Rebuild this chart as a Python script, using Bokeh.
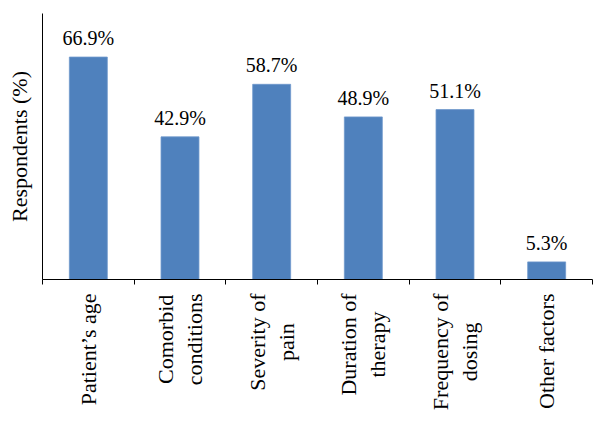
import math
from bokeh.plotting import figure
from bokeh.layouts import column
from bokeh.models import ColumnDataSource, FixedTicker, Range1d
from bokeh.embed import file_html
from bokeh.resources import INLINE
from bokeh.core.properties import value

categories = ["Patient\u2019s age", "Comorbid\nconditions", "Severity of\npain",
              "Duration of\ntherapy", "Frequency of\ndosing", "Other factors"]
values = [66.9, 42.9, 58.7, 48.9, 51.1, 5.3]
labels = ["66.9%", "42.9%", "58.7%", "48.9%", "51.1%", "5.3%"]

xs = [i + 0.5 for i in range(len(categories))]
src = ColumnDataSource(dict(x=xs, top=values, label=labels, cat=categories))

FONT = "Liberation Serif"

xr = Range1d(0, len(categories))
p = figure(width=605, height=290, output_backend="svg", toolbar_location=None,
           x_range=xr, y_range=Range1d(0, 80),
           min_border_left=42, min_border_right=13, min_border_top=13, min_border_bottom=11)
p.outline_line_color = None
p.xgrid.visible = False
p.ygrid.visible = False
p.background_fill_color = "white"
p.border_fill_color = "white"

p.vbar(x="x", top="top", width=0.414, bottom=0, source=src,
       fill_color="#4F81BD", line_color="#6F98CB", line_width=0.8)
p.text(x="x", y="top", text="label", source=src, text_align="center",
       text_baseline="alphabetic", y_offset=-19,
       text_font=value(FONT), text_font_size="20px", text_color="black")

xa = p.xaxis[0]
xa.ticker = FixedTicker(ticks=xs, minor_ticks=list(range(len(categories) + 1)))
xa.major_label_overrides = {x: "" for x in xs}
xa.major_label_text_font_size = "0px"
xa.major_label_standoff = 0
xa.major_tick_out = 0
xa.major_tick_in = 0
xa.minor_tick_out = 5
xa.minor_tick_in = 0
xa.minor_tick_line_color = "black"
xa.axis_line_color = "black"

ya = p.yaxis[0]
ya.ticker = FixedTicker(ticks=[])
ya.major_tick_out = 0
ya.minor_tick_out = 0
ya.major_label_text_font_size = "0px"
ya.axis_label = "Respondents (%)"
ya.axis_label_text_font = FONT
ya.axis_label_text_font_style = "normal"
ya.axis_label_text_font_size = "22px"
ya.axis_label_text_color = "black"
ya.axis_label_standoff = 11
ya.axis_line_color = "black"

# category labels, drawn in a strip under the chart sharing its x range
p2 = figure(width=605, height=125, output_backend="svg", toolbar_location=None,
            x_range=xr, y_range=Range1d(0, 1), x_axis_location=None, y_axis_location=None,
            min_border_left=42, min_border_right=13, min_border_top=0, min_border_bottom=0)
p2.outline_line_color = None
p2.xgrid.visible = False
p2.ygrid.visible = False
p2.background_fill_color = "white"
p2.border_fill_color = "white"
p2.text(x="x", y=1, text="cat", source=src, angle=math.pi / 2,
        anchor="center_right", text_align="center", text_baseline="middle",
        y_offset=3, text_font=value(FONT), text_font_size="22px",
        text_line_height=1.15, text_color="black")

open("out.html", "w").write(file_html(column(p, p2, spacing=0), INLINE))
